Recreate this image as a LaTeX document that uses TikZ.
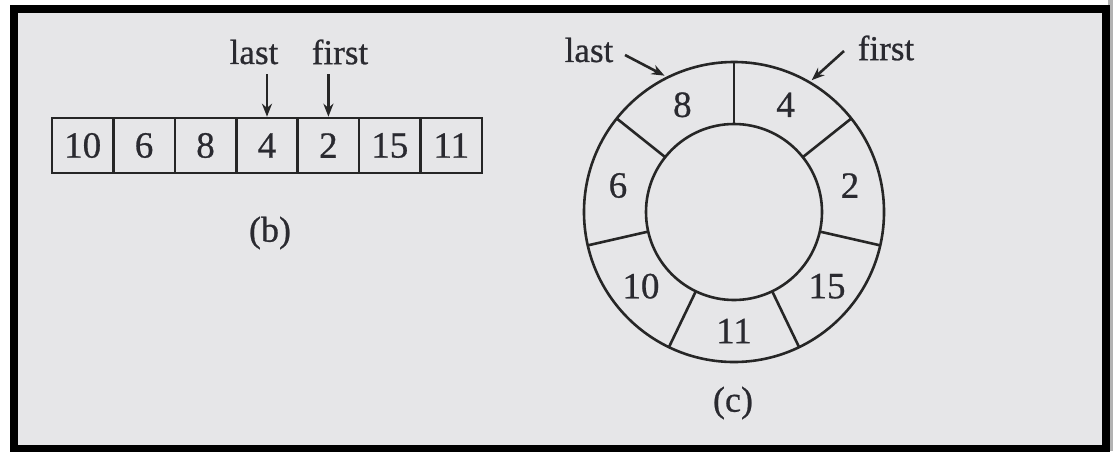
\documentclass[tikz,border=0pt]{standalone}
\usepackage{fontspec}
\setmainfont{Liberation Serif}
\newfontfamily\heavy[FakeBold=0.7]{Liberation Serif}
\usetikzlibrary{arrows.meta}
\definecolor{bg}{HTML}{E6E6E8}
\definecolor{ink}{HTML}{262626}
\definecolor{txt}{HTML}{2A2A30}
\begin{document}
\begin{tikzpicture}[x=1pt,y=-1pt,
  ln/.style={draw=ink,line width=2.6pt},
  cell/.style={ln,minimum width=61.4pt,minimum height=55pt,inner sep=0pt,text=txt,font=\heavy\fontsize{37}{40}\selectfont},
  num/.style={inner sep=0pt,text=txt,font=\heavy\fontsize{37}{40}\selectfont},
  lbl/.style={inner sep=0pt,text=txt,font=\heavy\fontsize{35}{38}\selectfont},
  captext/.style={inner sep=0pt,text=txt,font=\heavy\fontsize{36}{40}\selectfont},
  arr/.style={draw=ink,line width=2.6pt,-{Stealth[length=13pt,width=10pt]}}]
\useasboundingbox (0,0) rectangle (1113,451);
\fill[white] (0,0) rectangle (1113,451);
\fill[gray!60] (1108,0) rectangle (1113,451);
\fill[bg] (14,9) rectangle (1106,449);
\draw[line width=8pt] (14,9) rectangle (1106,449);
% (b) array
\node[cell] (a1) at (82.7,145.5) {10};
\node[cell] (a2) at (144.1,145.5) {6};
\node[cell] (a3) at (205.5,145.5) {8};
\node[cell] (a4) at (267,145.5) {4};
\node[cell] (a5) at (328.4,145.5) {2};
\node[cell] (a6) at (389.8,145.5) {15};
\node[cell] (a7) at (451.3,145.5) {11};
\node[lbl] (lastb) at (254,52) {last};
\node[lbl] (firstb) at (340,52) {first};
\coordinate (lastbS) at (267,74);
\coordinate (firstbS) at (328.4,74);
\draw[arr] (lastbS) -- (a4.north);
\draw[arr] (firstbS) -- (a5.north);
\node[captext] (capb) at (270,233) {(b)};
% (c) ring
\coordinate (ctr) at (734,212);
\draw[ln] (ctr) circle[radius=150pt];
\draw[ln] (ctr) circle[radius=88pt];
\foreach \a in {90,38.571,-12.857,-64.286,-115.714,-167.143,141.429}
  \draw[ln] ([shift={(\a:88pt)}]ctr) -- ([shift={(\a:150pt)}]ctr);
\node[num] (r8) at ([shift={(115.714:119pt)}]ctr) {8};
\node[num] (r4) at ([shift={(64.286:119pt)}]ctr) {4};
\node[num] (r2) at ([shift={(12.857:119pt)}]ctr) {2};
\node[num] (r15) at ([shift={(-38.571:119pt)}]ctr) {15};
\node[num] (r11) at ([shift={(-90:119pt)}]ctr) {11};
\node[num] (r10) at ([shift={(-141.429:119pt)}]ctr) {10};
\node[num] (r6) at ([shift={(167.143:119pt)}]ctr) {6};
\node[lbl] (lastc) at (589,50) {last};
\node[lbl] (firstc) at (886,48) {first};
\coordinate (lastcS) at (625,55);
\coordinate (lastcT) at ([shift={(117:153pt)}]ctr);
\coordinate (firstcS) at (844,51);
\coordinate (firstcT) at ([shift={(59.5:153pt)}]ctr);
\draw[arr] (lastcS) -- (lastcT);
\draw[arr] (firstcS) -- (firstcT);
\node[captext] (capc) at (733,403) {(c)};
\end{tikzpicture}
\end{document}
